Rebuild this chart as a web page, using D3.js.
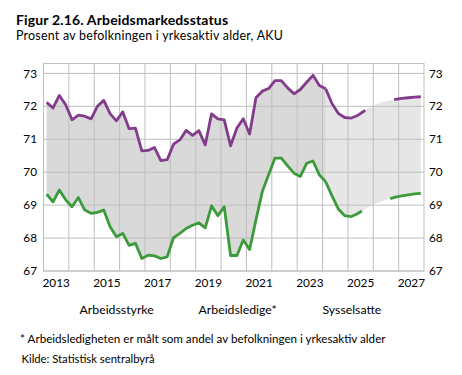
<!DOCTYPE html>
<html>
<head>
<meta charset="utf-8">
<script src="https://cdn.jsdelivr.net/npm/d3@7"></script>
<style>
  body { margin: 0; background: #fff; }
  svg { font-family: Lato, "Noto Sans", sans-serif; }
</style>
</head>
<body>
<div id="chart"></div>
<script>
// quarterly series, history 2013K1-2024K1, projection 2024K1-2027K4
const startYear = 2013;
const arbeidsstyrke = [
  72.12, 71.95, 72.33, 72.05,  71.59, 71.73, 71.70, 71.62,
  72.00, 72.18, 71.78, 71.56,  71.83, 71.32, 71.34, 70.65,
  70.66, 70.75, 70.35, 70.38,  70.85, 70.98, 71.27, 71.12,
  71.26, 70.83, 71.77, 71.62,  71.59, 70.80, 71.34, 71.62,
  71.16, 72.26, 72.46, 72.54,  72.78, 72.78, 72.56, 72.38,
  72.51, 72.73, 72.94, 72.63,  72.53
];
const sysselsatte = [
  69.33, 69.10, 69.46, 69.16,  68.95, 69.23, 68.85, 68.75,
  68.78, 68.85, 68.34, 68.04,  68.14, 67.78, 67.84, 67.38,
  67.48, 67.46, 67.38, 67.43,  68.01, 68.14, 68.29, 68.39,
  68.46, 68.31, 68.98, 68.68,  68.95, 67.47, 67.47, 67.94,
  67.65, 68.55, 69.41, 69.92,  70.43, 70.43, 70.19, 69.97,
  69.87, 70.27, 70.34, 69.92,  69.71
];
// projection starts at the last history quarter (2024K1)
const projStart = 44;
const arbeidsstyrkeProj = [
  72.53, 72.08, 71.78, 71.66,  71.64, 71.72, 71.85, 71.97,
  72.06, 72.13, 72.18, 72.21,  72.24, 72.26, 72.28, 72.29
];
const sysselsatteProj = [
  69.71, 69.28, 68.88, 68.68,  68.65, 68.74, 68.86, 68.97,
  69.06, 69.13, 69.19, 69.24,  69.28, 69.31, 69.34, 69.36
];
const yTicks = [67, 68, 69, 70, 71, 72, 73];
const yearLabels = [2013, 2015, 2017, 2019, 2021, 2023, 2025, 2027];
const legendItems = ["Arbeidsstyrke", "Arbeidsledige*", "Sysselsatte"];

const width = 462, height = 375;
const margin = { top: 63.5, right: 38, bottom: 104, left: 43.5 };
const purple = '#833c8c', green = '#3b9a3a';

const svg = d3.select('#chart').append('svg').attr('width', width).attr('height', height);

const x = d3.scaleLinear().domain([startYear, 2028]).range([margin.left, width - margin.right]);
const y = d3.scaleLinear().domain([67, 73.3]).range([height - margin.bottom, margin.top]);

const qt = i => startYear + (i + 0.5) / 4;
const hist = arbeidsstyrke.map((v, i) => ({ t: qt(i), hi: v, lo: sysselsatte[i] }));
const proj = arbeidsstyrkeProj.map((v, i) => ({ t: qt(projStart + i), hi: v, lo: sysselsatteProj[i] }));

const area = d3.area().x(d => x(d.t)).y0(d => y(d.lo)).y1(d => y(d.hi));
svg.append('path').datum(proj).attr('fill', '#e6e6e6').attr('d', area);
svg.append('path').datum(hist).attr('fill', '#d9d9d9').attr('d', area);

// grid
const grid = svg.append('g').attr('stroke', '#bfbfbf').attr('stroke-width', 1);
grid.selectAll('line.h').data(yTicks).join('line')
  .attr('x1', x.range()[0]).attr('x2', x.range()[1])
  .attr('y1', d => y(d)).attr('y2', d => y(d));
grid.selectAll('line.v').data(d3.range(2014, 2028)).join('line')
  .attr('x1', d => x(d)).attr('x2', d => x(d))
  .attr('y1', y.range()[0]).attr('y2', y.range()[1]);
grid.append('rect')
  .attr('x', x.range()[0]).attr('y', y.range()[1])
  .attr('width', x.range()[1] - x.range()[0]).attr('height', y.range()[0] - y.range()[1])
  .attr('fill', 'none');

// lines
const lineHi = d3.line().x(d => x(d.t)).y(d => y(d.hi));
const lineLo = d3.line().x(d => x(d.t)).y(d => y(d.lo));
[[lineHi, purple], [lineLo, green]].forEach(([ln, c]) => {
  svg.append('path').datum(hist).attr('fill', 'none').attr('stroke', c)
    .attr('stroke-width', 2.8).attr('stroke-linejoin', 'round').attr('d', ln);
  svg.append('path').datum(proj).attr('fill', 'none').attr('stroke', c)
    .attr('stroke-width', 2.8).attr('stroke-dasharray', '58 31').attr('d', ln);
});

// axes labels
const fs = 11.8;
svg.append('g').selectAll('text').data(yTicks).join('text')
  .attr('x', 37).attr('y', d => y(d)).attr('dy', '0.35em')
  .attr('text-anchor', 'end').attr('font-size', fs).attr('fill', '#000').text(d => d);
svg.append('g').selectAll('text').data(yTicks).join('text')
  .attr('x', 429).attr('y', d => y(d)).attr('dy', '0.35em')
  .attr('text-anchor', 'start').attr('font-size', fs).attr('fill', '#000').text(d => d);
svg.append('g').selectAll('text').data(yearLabels).join('text')
  .attr('x', d => x(d + 0.5)).attr('y', 282.5).attr('dy', '0.35em')
  .attr('text-anchor', 'middle').attr('font-size', fs).attr('fill', '#000').text(d => d);

// legend (no symbols)
const legendX = [79.5, 198.5, 322.5];
svg.append('g').selectAll('text').data(legendItems).join('text')
  .attr('x', (d, i) => legendX[i]).attr('y', 310).attr('dy', '0.35em')
  .attr('font-size', 12.3).attr('fill', '#000').text(d => d);

// titles and notes
svg.append('text').attr('x', 16).attr('y', 24.5)
  .attr('font-size', 14).attr('font-weight', 'bold').attr('letter-spacing', 0.15)
  .text('Figur 2.16. Arbeidsmarkedsstatus');
svg.append('text').attr('x', 16).attr('y', 39.5)
  .attr('font-size', 12.4).attr('letter-spacing', 0.25)
  .text('Prosent av befolkningen i yrkesaktiv alder, AKU');
svg.append('text').attr('x', 20).attr('y', 338.5).attr('dy', '0.35em')
  .attr('font-size', 11.65).text('* Arbeidsledigheten er målt som andel av befolkningen i yrkesaktiv alder');
svg.append('text').attr('x', 21.5).attr('y', 359.5).attr('dy', '0.35em')
  .attr('font-size', 11.25).text('Kilde: Statistisk sentralbyrå');
</script>
</body>
</html>
